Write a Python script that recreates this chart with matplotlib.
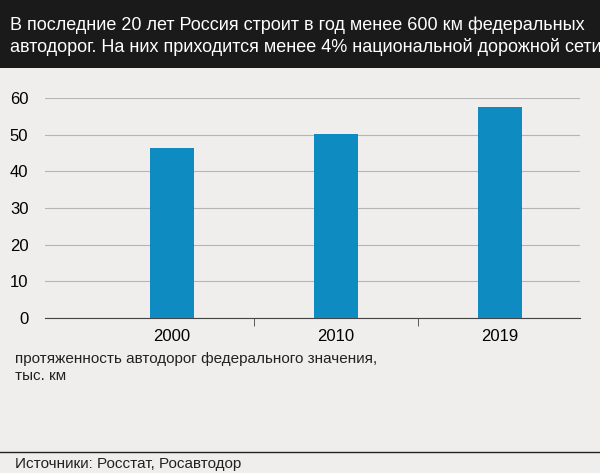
import matplotlib.pyplot as plt
from matplotlib import font_manager

names = {f.name for f in font_manager.fontManager.ttflist}
font = 'Liberation Sans Narrow' if 'Liberation Sans Narrow' in names else 'Liberation Sans'
plt.rcParams['font.family'] = font

years = ['2000', '2010', '2019']
values = [46.3, 50.2, 57.4]
yticks = [0, 10, 20, 30, 40, 50, 60]

bg = '#efeeec'
fig = plt.figure(figsize=(6, 4.73), dpi=100, facecolor=bg)

# header band
fig.patches.append(plt.Rectangle((0, 1 - 68/473), 1, 68/473, transform=fig.transFigure,
                                 facecolor='#1a1a1a', zorder=0))
fig.text(0.017, 0.965, 'В последние 20 лет Россия строит в год менее 600 км федеральных\n'
         'автодорог. На них приходится менее 4% национальной дорожной сети',
         color='white', fontsize=13, va='top', ha='left', linespacing=1.3)

ax = fig.add_axes([0.075, 0.328, 0.892, 0.465], facecolor=bg)
x = list(range(len(years)))
ax.bar(x, values, width=0.27, color='#0e8bc0', zorder=3)
ax.set_xlim(-0.774, 2.49)
ax.set_ylim(0, 60)
ax.set_yticks(yticks)
ax.grid(axis='y', color='#b5b5b5', linewidth=0.8, zorder=0)
ax.set_xticks(x)
ax.set_xticklabels(years, fontsize=12)
ax.set_xticks([0.5, 1.5], minor=True)
ax.tick_params(axis='x', which='major', length=0, pad=8)
ax.tick_params(axis='x', which='minor', length=6, color='#444444')
ax.tick_params(axis='y', length=0, labelsize=12, pad=12)
for s in ['top', 'right', 'left']:
    ax.spines[s].set_visible(False)
ax.spines['bottom'].set_color('#444444')

fig.text(0.025, 0.255, 'протяженность автодорог федерального значения,\nтыс. км',
         fontsize=11, va='top', color='#222222')

fig.add_artist(plt.Line2D([0, 1], [1 - 452/473] * 2, transform=fig.transFigure,
                          color='#222222', linewidth=1))
fig.text(0.025, 0.01, 'Источники: Росстат, Росавтодор', fontsize=11, color='#222222')

fig.savefig('out.png', dpi=100, facecolor=bg)
